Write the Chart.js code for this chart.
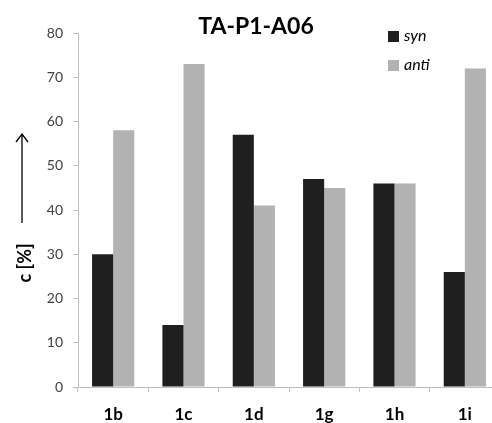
<!DOCTYPE html>
<html><head><meta charset="utf-8">
<script src="https://cdn.jsdelivr.net/npm/chart.js@4.4.0/dist/chart.umd.min.js"></script>
<style>html,body{margin:0;padding:0;overflow:hidden;background:#fff}#wrap{width:510px;height:423px}</style>
</head><body><div id="wrap"><canvas id="c" width="510" height="423"></canvas></div>
<script>
const categories = ['1b','1c','1d','1g','1h','1i'];
const synValues = [30,14,57,47,46,26];
const antiValues = [58,73,41,45,46,72];
const yTicks = [0,10,20,30,40,50,60,70,80];
const seriesNames = ['syn','anti'];
const titleText = 'TA-P1-A06';
const yTitle = 'c [%]';

const FONT = 'Lato, "Open Sans", sans-serif';

const overlay = {
  id: 'overlay',
  afterDraw(chart) {
    const ctx = chart.ctx;
    ctx.save();
    // title
    ctx.fillStyle = '#000';
    ctx.font = 'bold 23px ' + FONT;
    ctx.textAlign = 'center';
    ctx.textBaseline = 'middle';
    ctx.fillText(titleText, 256, 27);
    // legend
    chart.data.datasets.forEach((ds, i) => {
      const y = 36 + i * 29;
      ctx.fillStyle = ds.backgroundColor;
      ctx.fillRect(388, y - 5, 11, 11);
      ctx.fillStyle = '#000';
      ctx.font = 'italic 16px ' + FONT;
      ctx.textAlign = 'left';
      ctx.fillText(ds.label, 404, y);
    });
    // y title
    ctx.save();
    ctx.translate(25, 263);
    ctx.rotate(-Math.PI / 2);
    ctx.font = 'bold 18px ' + FONT;
    ctx.textAlign = 'center';
    ctx.fillStyle = '#000';
    ctx.fillText(yTitle, 0, 0);
    ctx.restore();
    // arrow
    ctx.strokeStyle = '#000';
    ctx.lineWidth = 1.3;
    ctx.beginPath();
    ctx.moveTo(22, 223); ctx.lineTo(22, 134);
    ctx.moveTo(16, 142); ctx.lineTo(22, 134); ctx.lineTo(28, 142);
    ctx.stroke();
    ctx.restore();
  }
};

new Chart(document.getElementById('c'), {
  type: 'bar',
  data: {
    labels: categories,
    datasets: [
      { label: seriesNames[0], data: synValues, backgroundColor: '#1f1f1f' },
      { label: seriesNames[1], data: antiValues, backgroundColor: '#b2b2b2' }
    ]
  },
  options: {
    responsive: false,
    animation: false,
    devicePixelRatio: 1,
    layout: { padding: { left: 0, top: 33, right: 10, bottom: 0 } },
    plugins: { legend: { display: false }, title: { display: false }, tooltip: { enabled: false } },
    datasets: { bar: { categoryPercentage: 0.6, barPercentage: 1.0 } },
    scales: {
      x: {
        offset: true,
        grid: { offset: true, drawOnChartArea: false, drawTicks: true, tickLength: 5, color: '#bfbfbf' },
        border: { color: '#bfbfbf' },
        ticks: { color: '#000', font: { family: FONT, size: 17, weight: 'bold' }, padding: 12, maxRotation: 0 },
        afterFit(s) { s.height = 36; }
      },
      y: {
        min: 0, max: 80,
        afterBuildTicks(s) { s.ticks = yTicks.map(v => ({ value: v })); },
        grid: { drawOnChartArea: false, drawTicks: true, tickLength: 5, color: '#bfbfbf' },
        border: { color: '#bfbfbf' },
        ticks: { color: '#404040', font: { family: FONT, size: 14 }, padding: 10 },
        afterFit(s) { s.width = 78; }
      }
    }
  },
  plugins: [overlay]
});
</script></body></html>
